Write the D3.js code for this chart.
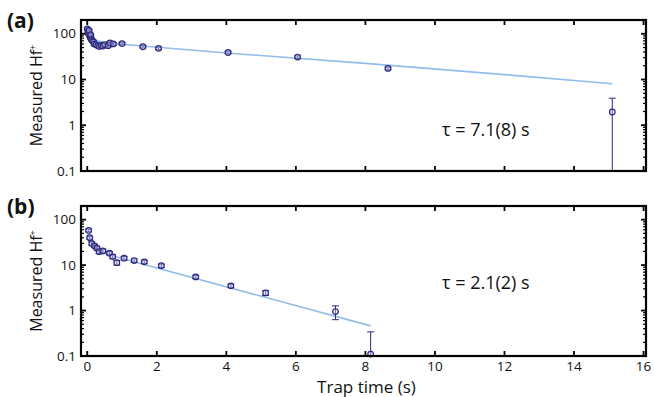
<!DOCTYPE html>
<html>
<head>
<meta charset="utf-8">
<script src="https://cdn.jsdelivr.net/npm/d3@7"></script>
<style>
  body { margin: 0; background: #fff; }
  svg { display: block; font-family: "Open Sans", "Noto Sans", sans-serif; }
</style>
</head>
<body>
<script>
// panel (a) data
const timeA = [0.0, 0.02, 0.04, 0.05, 0.07, 0.09, 0.1, 0.12, 0.15, 0.18, 0.2, 0.25, 0.3, 0.35, 0.4, 0.45, 0.5, 0.6, 0.65, 0.75, 1.0, 1.6, 2.05, 4.05, 6.05, 8.65, 15.1];
const countA = [128, 112, 100, 118, 90, 82, 95, 75, 70, 66, 60, 58, 55, 53, 56, 54, 58, 55, 63, 60, 61, 52, 48, 39, 31, 17.5, 1.95];
const errA = [8, 7, 6, 7, 6, 5, 6, 5, 5, 4, 4, 4, 4, 4, 4, 4, 4, 4, 4, 4, 3, 3, 3, 2.5, 2, 1.2, 1.95];
const fitTimeA = [0.0, 0.05, 0.1, 0.2, 0.3, 0.5, 0.8, 1.5, 4, 8, 12, 15.1];
const fitA = [125, 105, 92, 78, 70, 64, 61, 54.5, 38, 22.5, 12.8, 8.1];

// panel (b) data
const timeB = [0.04, 0.07, 0.13, 0.21, 0.28, 0.34, 0.45, 0.64, 0.73, 0.85, 1.06, 1.35, 1.64, 2.13, 3.12, 4.13, 5.13, 7.14, 8.15];
const countB = [58, 40, 30, 26.5, 23.5, 19.8, 20.5, 18.3, 15.4, 11.3, 14.2, 12.6, 11.8, 9.7, 5.5, 3.5, 2.45, 0.95, 0.11];
const errB = [4, 3, 2.5, 2, 2, 1.8, 1.8, 1.6, 1.5, 1.3, 1.3, 1.1, 1, 0.8, 0.45, 0.3, 0.3, 0.32, 0.23];
const fitTimeB = [0.02, 0.05, 0.1, 0.15, 0.2, 0.3, 0.5, 1.0, 8.15];
const fitB = [48, 40, 32, 27, 24, 21, 18.2, 14, 0.46];

const xTicks = [0, 2, 4, 6, 8, 10, 12, 14, 16];
const yTicks = [0.1, 1, 10, 100];
const yTickLabels = ["0.1", "1", "10", "100"];

const width = 654, height = 397;
const left = 81, right = 646;
const navy = "#2d2a7e";
const fitColor = "#93bde9";

const svg = d3.select("body").append("svg")
  .attr("width", width)
  .attr("height", height);

const x = d3.scaleLinear().domain([-0.18, 16.07]).range([left, right]);

function drawPanel({ top, bottom, label, tauText, tauY, times, counts, errs, fitTimes, fitVals, showXLabels, id }) {
  const y = d3.scaleLog().domain([0.1, 200]).range([bottom, top]);
  const yc = (v) => y(Math.max(v, 0.1));
  const g = svg.append("g");

  g.append("clipPath").attr("id", id)
    .append("rect").attr("x", left).attr("y", top).attr("width", right - left).attr("height", bottom - top);

  // minor and major y ticks, both sides
  const minor = [];
  [0.1, 1, 10, 100].forEach(d => { for (let k = 2; k <= 9; k++) if (d * k <= 200) minor.push(d * k); });
  minor.forEach(v => {
    g.append("line").attr("x1", left).attr("x2", left + 3).attr("y1", y(v)).attr("y2", y(v)).attr("stroke", "#000").attr("stroke-width", 1.2);
    g.append("line").attr("x1", right).attr("x2", right - 3).attr("y1", y(v)).attr("y2", y(v)).attr("stroke", "#000").attr("stroke-width", 1.2);
  });
  yTicks.forEach((v, i) => {
    g.append("line").attr("x1", left).attr("x2", left + 5).attr("y1", y(v)).attr("y2", y(v)).attr("stroke", "#000").attr("stroke-width", 1.8);
    g.append("line").attr("x1", right).attr("x2", right - 5).attr("y1", y(v)).attr("y2", y(v)).attr("stroke", "#000").attr("stroke-width", 1.8);
    g.append("text").attr("x", left - 5).attr("y", y(v)).attr("dy", "0.35em")
      .attr("text-anchor", "end").attr("font-size", "13.5px").attr("fill", "#111")
      .text(yTickLabels[i]);
  });

  // x ticks top and bottom
  xTicks.forEach(t => {
    g.append("line").attr("x1", x(t)).attr("x2", x(t)).attr("y1", bottom).attr("y2", bottom - 5).attr("stroke", "#000").attr("stroke-width", 1.8);
    g.append("line").attr("x1", x(t)).attr("x2", x(t)).attr("y1", top).attr("y2", top + 5).attr("stroke", "#000").attr("stroke-width", 1.8);
    if (showXLabels) {
      g.append("text").attr("x", x(t)).attr("y", bottom + 15)
        .attr("text-anchor", "middle").attr("font-size", "13.5px").attr("fill", "#111").text(t);
    }
  });

  const plot = g.append("g").attr("clip-path", `url(#${id})`);

  // fit line
  const line = d3.line().x((d, i) => x(fitTimes[i])).y(d => y(d));
  plot.append("path").datum(fitVals)
    .attr("d", line).attr("fill", "none")
    .attr("stroke", fitColor).attr("stroke-width", 1.6);

  // error bars
  times.forEach((t, i) => {
    const hi = counts[i] + errs[i];
    const lo = counts[i] - errs[i];
    plot.append("line").attr("x1", x(t)).attr("x2", x(t))
      .attr("y1", yc(hi)).attr("y2", lo > 0 ? yc(lo) : bottom + 2)
      .attr("stroke", navy).attr("stroke-width", 1);
    plot.append("line").attr("x1", x(t) - 3.5).attr("x2", x(t) + 3.5)
      .attr("y1", yc(hi)).attr("y2", yc(hi)).attr("stroke", navy).attr("stroke-width", 1);
    if (lo > 0.1) {
      plot.append("line").attr("x1", x(t) - 3.5).attr("x2", x(t) + 3.5)
        .attr("y1", yc(lo)).attr("y2", yc(lo)).attr("stroke", navy).attr("stroke-width", 1);
    }
  });

  // points
  g.selectAll(null).data(times).enter().append("circle")
    .attr("cx", d => x(d))
    .attr("cy", (d, i) => yc(counts[i]))
    .attr("r", 2.8)
    .attr("fill", "#c9c7ea")
    .attr("fill-opacity", 0.45)
    .attr("stroke", navy)
    .attr("stroke-width", 1.2);

  // frame
  g.append("rect").attr("x", left).attr("y", top).attr("width", right - left).attr("height", bottom - top)
    .attr("fill", "none").attr("stroke", "#000").attr("stroke-width", 2.2);

  // y label
  const cy = (top + bottom) / 2;
  const yl = g.append("text")
    .attr("transform", `translate(42,${cy}) rotate(-90)`)
    .attr("text-anchor", "middle").attr("font-size", "16px").attr("fill", "#111");
  yl.append("tspan").text("Measured Hf");
  yl.append("tspan").attr("font-size", "9px").attr("dy", "-6").text("+");

  // panel label
  g.append("text").attr("x", 7).attr("y", top + 8)
    .attr("font-size", "21px").attr("font-weight", "700").attr("fill", "#111").text(label);

  // tau annotation
  g.append("text").attr("x", 442).attr("y", tauY)
    .attr("font-size", "18px").attr("fill", "#111").text(tauText);
}

drawPanel({
  id: "clipA", top: 20, bottom: 171, label: "(a)", tauText: "τ = 7.1(8) s", tauY: 136,
  times: timeA, counts: countA, errs: errA, fitTimes: fitTimeA, fitVals: fitA, showXLabels: false
});
drawPanel({
  id: "clipB", top: 206, bottom: 356, label: "(b)", tauText: "τ = 2.1(2) s", tauY: 289,
  times: timeB, counts: countB, errs: errB, fitTimes: fitTimeB, fitVals: fitB, showXLabels: true
});

svg.append("text").attr("x", (left + right) / 2 + 3).attr("y", 393)
  .attr("text-anchor", "middle").attr("font-size", "17px").attr("fill", "#111")
  .text("Trap time (s)");
</script>
</body>
</html>
